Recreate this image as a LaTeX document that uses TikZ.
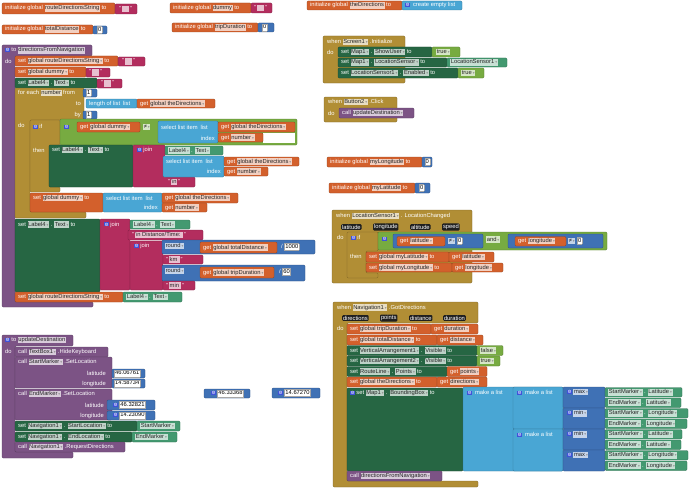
\documentclass[tikz,border=0pt]{standalone}
\usepackage{fontspec}
\setmainfont{Liberation Sans}
\newfontfamily\symf{DejaVu Sans}
\usetikzlibrary{positioning}
\definecolor{varorange}{HTML}{D3602C}
\definecolor{textmag}{HTML}{B32D5E}
\definecolor{mathblue}{HTML}{3F71B5}
\definecolor{listblue}{HTML}{49A6D4}
\definecolor{compdark}{HTML}{266643}
\definecolor{complight}{HTML}{439970}
\definecolor{ctrlgold}{HTML}{B18E35}
\definecolor{procpurple}{HTML}{7C5385}
\definecolor{logicgreen}{HTML}{77AB41}
\definecolor{gearblue}{HTML}{3F51D8}
\colorlet{fldc}{white}
\newcommand\tf{\fontsize{5.8}{7}\selectfont}
\newcommand\dd{\hspace{1pt}{\symf\fontsize{3.6}{4}\selectfont\textcolor{black!45}{▾}}}
\newcommand\fld[1]{{\setlength\fboxsep{0.6pt}\colorbox{fldc}{\textcolor{black!85}{\vphantom{Ag}#1}}}}
\newcommand\numf[1]{{\setlength\fboxsep{0.6pt}\fcolorbox{black!35}{white}{\textcolor{black}{\vphantom{Ag}#1}}}}
\newcommand\gear{{\setlength\fboxsep{0.3pt}\colorbox{gearblue}{\textcolor{white}{\symf\fontsize{4.5}{5}\selectfont ⚙}}}}
\newcommand\qt[1]{"\,\fld{#1}\,"}
\tikzset{
  blk/.style={fill=#1, draw=#1!72!black, line width=0.35pt, rounded corners=1.2pt},
  txt/.style={anchor=west, inner sep=0pt, text=white, font=\tf,
    execute at begin node={\colorlet{fldc}{#1!30!white}}},
  prm/.style={anchor=west, fill=black!88, text=white, font=\tf, inner sep=0.8pt, rounded corners=1pt}
}
\begin{document}
\begin{tikzpicture}[x=1pt,y=-1pt]
\useasboundingbox (0,0) rectangle (690,487);

% global variables
\fill[blk=varorange] (2,3) rectangle (115,14);
\node[txt=varorange] (initRoute) at (5,8.5) {initialize global \fld{routeDirectionsString} to};
\fill[blk=textmag] (115,4) rectangle (137,14);
\node[txt=textmag] (initRouteVal) at (119,9) {\qt{\hspace{6pt}}};
\fill[blk=varorange] (2,25) rectangle (93,34);
\node[txt=varorange] (initDist) at (5,29.5) {initialize global \fld{totalDistance} to};
\fill[blk=mathblue] (93,26) rectangle (107,34);
\node[txt=mathblue] (initDistVal) at (97,30) {\numf{0}};
\fill[blk=varorange] (170,3) rectangle (251,13);
\node[txt=varorange] (initDummy) at (173,8) {initialize global \fld{dummy} to};
\fill[blk=textmag] (251,3) rectangle (272,13);
\node[txt=textmag] (initDummyVal) at (254,8) {\qt{\hspace{6pt}}};
\fill[blk=varorange] (172,23) rectangle (258,32);
\node[txt=varorange] (initTrip) at (175,27.5) {initialize global \fld{tripDuration} to};
\fill[blk=mathblue] (258,23) rectangle (274,32);
\node[txt=mathblue] (initTripVal) at (262,27.5) {\numf{0}};

% procedure directionsFromNavigation
\fill[blk=procpurple] (2,45) -- (92,45) -- (92,56) -- (15,56) -- (15,302) -- (93,302) -- (93,307) -- (2,307) -- cycle;
\node[txt=procpurple] (dirProc) at (5,50.5) {\gear\ to \fld{directionsFromNavigation}};
\node[txt=procpurple] (dirDo) at (5,61) {do};
\fill[blk=varorange] (15,56) rectangle (118,66);
\node[txt=varorange] (setRoute) at (18,61) {set \fld{global routeDirectionsString\dd} to};
\fill[blk=textmag] (118,57) rectangle (145,66);
\node[txt=textmag] (setRouteVal) at (122,61.5) {\qt{\hspace{6pt}}};
\fill[blk=varorange] (15,67) rectangle (86,77);
\node[txt=varorange] (setDummy) at (18,72) {set \fld{global dummy\dd} to};
\fill[blk=textmag] (86,68) rectangle (110,77);
\node[txt=textmag] (setDummyVal) at (89,72.5) {\qt{\hspace{6pt}}};
\fill[blk=compdark] (15,78) rectangle (97,88);
\node[txt=compdark] (setLabel) at (18,83) {set \fld{Label4\dd} . \fld{Text\dd} to};
\fill[blk=textmag] (97,79) rectangle (122,88);
\node[txt=textmag] (setLabelVal) at (101,83.5) {\qt{\hspace{6pt}}};

% for each number
\fill[blk=ctrlgold] (15,88) -- (84,88) -- (84,120) -- (30,120) -- (30,212) -- (86,212) -- (86,218) -- (15,218) -- cycle;
\node[txt=ctrlgold] (forEach) at (18,93) {for each \fld{number} from};
\fill[blk=mathblue] (83,89) rectangle (97,97);
\node[txt=mathblue] (forFrom) at (86,93) {\numf{1}};
\node[txt=ctrlgold, anchor=east] (forTo) at (81,104) {to};
\fill[blk=listblue] (86,99) rectangle (137,108);
\node[txt=listblue] (lenList) at (89,103.5) {length of list\hspace{3pt}list};
\fill[blk=varorange] (137,99) rectangle (215,108);
\node[txt=varorange] (getDirA) at (140,103.5) {get \fld{global theDirections\dd}};
\node[txt=ctrlgold, anchor=east] (forBy) at (81,115) {by};
\fill[blk=mathblue] (83,111) rectangle (97,119);
\node[txt=mathblue] (forStep) at (86,115) {\numf{1}};
\node[txt=ctrlgold] (forDo) at (18,125) {do};

% if dummy differs
\fill[blk=ctrlgold] (30,120) -- (60,120) -- (60,145) -- (49,145) -- (49,187) -- (60,187) -- (60,192) -- (30,192) -- cycle;
\node[txt=ctrlgold] (ifHead) at (33,126.5) {\gear\ if};
\node[txt=ctrlgold] (ifThen) at (33,150) {then};
\fill[blk=logicgreen] (60,119) rectangle (297,145);
\fill[white] (263,133) rectangle (295,143);
\node[txt=logicgreen] (cmpGear) at (64,127) {\gear};
\fill[blk=varorange] (77,122) rectangle (140,132);
\node[txt=varorange] (getDummy) at (80,127) {get \fld{global dummy\dd}};
\node[txt=logicgreen] (cmpOp) at (143,127) {\fld{≠\dd}};
\fill[blk=listblue] (158,121) rectangle (218,143);
\node[txt=listblue] (selA) at (161,127) {select list item\hspace{3pt}list};
\node[txt=listblue, anchor=east] (selAIdx) at (215,138) {index};
\fill[blk=varorange] (218,122) rectangle (295,132);
\node[txt=varorange] (getDirB) at (221,127) {get \fld{global theDirections\dd}};
\fill[blk=varorange] (218,133) rectangle (263,142);
\node[txt=varorange] (getNumA) at (221,137.5) {get \fld{number\dd}};
\fill[blk=compdark] (49,145) rectangle (133,187);
\node[txt=compdark] (setLabelB) at (52,150) {set \fld{Label4\dd} . \fld{Text\dd} to};
\fill[blk=textmag] (133,145) -- (165,145) -- (165,177) -- (195,177) -- (195,187) -- (133,187) -- cycle;
\node[txt=textmag] (joinA) at (137,150) {\gear\ join};
\fill[blk=complight] (165,146) rectangle (223,155);
\node[txt=complight] (labelTextA) at (168,150.5) {\fld{Label4\dd} . \fld{Text\dd}};
\fill[blk=listblue] (163,156) rectangle (224,177);
\node[txt=listblue] (selB) at (166,161.5) {select list item\hspace{3pt}list};
\node[txt=listblue, anchor=east] (selBIdx) at (221,171.5) {index};
\fill[blk=varorange] (224,157) rectangle (299,166);
\node[txt=varorange] (getDirC) at (227,161.5) {get \fld{global theDirections\dd}};
\fill[blk=varorange] (224,167) rectangle (268,176);
\node[txt=varorange] (getNumB) at (227,171.5) {get \fld{number\dd}};
\node[txt=textmag] (newlineA) at (168,182) {\qt{\textbackslash n}};
\fill[blk=varorange] (30,193) rectangle (103,212);
\node[txt=varorange] (setDummyB) at (33,198) {set \fld{global dummy\dd} to};
\fill[blk=listblue] (103,193) rectangle (162,212);
\node[txt=listblue] (selC) at (106,198) {select list item\hspace{3pt}list};
\node[txt=listblue, anchor=east] (selCIdx) at (158,207.5) {index};
\fill[blk=varorange] (162,193) rectangle (238,203);
\node[txt=varorange] (getDirD) at (165,198) {get \fld{global theDirections\dd}};
\fill[blk=varorange] (162,203) rectangle (207,212);
\node[txt=varorange] (getNumC) at (165,207.5) {get \fld{number\dd}};

% distance and time
\fill[blk=compdark] (15,219) rectangle (100,292);
\node[txt=compdark] (setLabelC) at (18,224.5) {set \fld{Label4\dd} . \fld{Text\dd} to};
\fill[blk=textmag] (100,219) rectangle (130,290);
\node[txt=textmag] (joinB) at (104,224.5) {\gear\ join};
\fill[blk=complight] (130,220) rectangle (190,229);
\node[txt=complight] (labelTextB) at (133,224.5) {\fld{Label4\dd} . \fld{Text\dd}};
\fill[blk=textmag] (128,230) rectangle (203,240);
\node[txt=textmag] (distTime) at (132,235) {\qt{\textbackslash n Distance/Time:\ }};
\fill[blk=textmag] (130,241) rectangle (163,290);
\node[txt=textmag] (joinC) at (134,246) {\gear\ join};
\fill[blk=mathblue] (162,240) rectangle (315,254);
\node[txt=mathblue] (roundA) at (165,246) {\fld{round\dd}};
\fill[blk=varorange] (200,242) rectangle (277,253);
\node[txt=varorange] (getDist) at (203,247.5) {get \fld{global totalDistance\dd}};
\node[txt=mathblue] (divA) at (281,247) {/\ \numf{1000}};
\fill[blk=textmag] (163,255) rectangle (203,264);
\node[txt=textmag] (kmText) at (166,259.5) {\qt{km\ }};
\fill[blk=mathblue] (162,265) rectangle (305,281);
\node[txt=mathblue] (roundB) at (165,271) {\fld{round\dd}};
\fill[blk=varorange] (200,267) rectangle (274,278);
\node[txt=varorange] (getTrip) at (203,272.5) {get \fld{global tripDuration\dd}};
\node[txt=mathblue] (divB) at (279,272) {/\ \numf{60}};
\fill[blk=textmag] (163,281) rectangle (195,290);
\node[txt=textmag] (minText) at (166,285.5) {\qt{min\ }};
\fill[blk=varorange] (15,292) rectangle (123,302);
\node[txt=varorange] (setRouteB) at (18,297) {set \fld{global routeDirectionsString\dd} to};
\fill[blk=complight] (123,292) rectangle (182,302);
\node[txt=complight] (labelTextC) at (126,297) {\fld{Label4\dd} . \fld{Text\dd}};

% theDirections and Screen1
\fill[blk=varorange] (307,1) rectangle (402,10);
\node[txt=varorange] (initDirs) at (310,5.5) {initialize global \fld{theDirections} to};
\fill[blk=listblue] (402,1) rectangle (462,10);
\node[txt=listblue] (emptyList) at (405,5.5) {\gear\ \ create empty list};
\fill[blk=ctrlgold] (323,36) rectangle (405,83);
\node[txt=ctrlgold] (scrInit) at (327,42) {when \fld{Screen1\dd} .Initialize};
\node[txt=ctrlgold] (scrDo) at (327,52) {do};
\fill[blk=compdark] (338,47) rectangle (432,57);
\node[txt=compdark] (setShowUser) at (341,52) {set \fld{Map1\dd} . \fld{ShowUser\dd} to};
\fill[blk=logicgreen] (432,47) rectangle (460,57);
\node[txt=logicgreen] (trueA) at (436,52) {\fld{true\dd}};
\fill[blk=compdark] (338,58) rectangle (447,67);
\node[txt=compdark] (setLocSensor) at (341,62.5) {set \fld{Map1\dd} . \fld{LocationSensor\dd} to};
\fill[blk=complight] (447,58) rectangle (507,67);
\node[txt=complight] (locSensor) at (450,62.5) {\fld{LocationSensor1\dd}};
\fill[blk=compdark] (338,68) rectangle (458,78);
\node[txt=compdark] (setEnabled) at (341,73) {set \fld{LocationSensor1\dd} . \fld{Enabled\dd} to};
\fill[blk=logicgreen] (458,68) rectangle (484,78);
\node[txt=logicgreen] (trueB) at (461,73) {\fld{true\dd}};

% Button2.Click
\fill[blk=ctrlgold] (324,97) rectangle (397,122);
\node[txt=ctrlgold] (btnClick) at (328,102) {when \fld{Button2\dd} .Click};
\node[txt=ctrlgold] (btnDo) at (328,113) {do};
\fill[blk=procpurple] (339,108) rectangle (414,118);
\node[txt=procpurple] (callUpdate) at (342,113) {call \fld{updateDestination\dd}};

% my position
\fill[blk=varorange] (327,157) rectangle (422,167);
\node[txt=varorange] (initLon) at (330,162) {initialize global \fld{myLongitude} to};
\fill[blk=mathblue] (422,157) rectangle (432,167);
\node[txt=mathblue] (initLonVal) at (424.5,162) {\numf{0}};
\fill[blk=varorange] (329,183) rectangle (415,193);
\node[txt=varorange] (initLat) at (332,188) {initialize global \fld{myLatitude} to};
\fill[blk=mathblue] (415,183) rectangle (430,193);
\node[txt=mathblue] (initLatVal) at (419,188) {\numf{0}};

% LocationSensor1.LocationChanged
\fill[blk=ctrlgold] (332,210) rectangle (472,283);
\node[txt=ctrlgold] (locChanged) at (336,216) {when \fld{LocationSensor1\dd} . LocationChanged};
\node[prm] (prmLat) at (341,227) {latitude};
\node[prm] (prmLon) at (373,227) {longitude};
\node[prm] (prmAlt) at (410,227) {altitude};
\node[prm] (prmSpeed) at (442,227) {speed};
\node[txt=ctrlgold] (locDo) at (337,237.5) {do};
\fill[blk=ctrlgold] (347,232) -- (378,232) -- (378,251) -- (366,251) -- (366,273) -- (378,273) -- (378,278) -- (347,278) -- cycle;
\node[txt=ctrlgold] (ifB) at (351,238) {\gear\ if};
\node[txt=ctrlgold] (thenB) at (350,256.5) {then};
\fill[blk=logicgreen] (378,232) rectangle (607,250);
\node[txt=logicgreen] (andGear) at (382,239) {\gear};
\fill[blk=mathblue] (393,234) rectangle (483,248);
\fill[blk=varorange] (397,236.5) rectangle (445,246);
\node[txt=varorange] (getLat) at (400,241) {get \fld{latitude\dd}};
\node[txt=mathblue] (cmpLat) at (448,241) {\fld{≠\dd}\ \numf{0}};
\node[txt=logicgreen] (andOp) at (486,239.5) {\fld{and\dd}};
\fill[blk=mathblue] (508,234) rectangle (603,248);
\fill[blk=varorange] (515,236.5) rectangle (566,246);
\node[txt=varorange] (getLon) at (518,241) {get \fld{longitude\dd}};
\node[txt=mathblue] (cmpLon) at (568,241) {\fld{≠\dd}\ \numf{0}};
\fill[blk=varorange] (366,252) rectangle (449,262);
\node[txt=varorange] (setMyLat) at (369,257) {set \fld{global myLatitude\dd} to};
\fill[blk=varorange] (449,252) rectangle (494,262);
\node[txt=varorange] (getLatB) at (452,257) {get \fld{latitude\dd}};
\fill[blk=varorange] (366,263) rectangle (452,272);
\node[txt=varorange] (setMyLon) at (369,267.5) {set \fld{global myLongitude\dd} to};
\fill[blk=varorange] (452,263) rectangle (503,272);
\node[txt=varorange] (getLonB) at (455,267.5) {get \fld{longitude\dd}};

% procedure updateDestination
\fill[blk=procpurple] (2,335) -- (73,335) -- (73,346) -- (15,346) -- (15,452) -- (73,452) -- (73,458) -- (2,458) -- cycle;
\node[txt=procpurple] (updProc) at (5,340) {\gear\ to \fld{updateDestination}};
\node[txt=procpurple] (updDo) at (5,351) {do};
\fill[blk=procpurple] (15,347) rectangle (108,357);
\node[txt=procpurple] (hideKb) at (18,352) {call \fld{TextBox1\dd} .HideKeyboard};
\fill[blk=procpurple] (15,357) rectangle (112,388);
\node[txt=procpurple] (startSet) at (18,362) {call \fld{StartMarker\dd} .SetLocation};
\node[txt=procpurple, anchor=east] (startLatLbl) at (106,373.5) {latitude};
\node[txt=procpurple, anchor=east] (startLonLbl) at (106,383.5) {longitude};
\fill[blk=mathblue] (112,369) rectangle (145,378);
\node[txt=mathblue] (startLat) at (114,373.5) {\numf{46.06761}};
\fill[blk=mathblue] (112,379) rectangle (145,388);
\node[txt=mathblue] (startLon) at (114,383.5) {\numf{14.58734}};
\fill[blk=procpurple] (15,389) rectangle (112,420);
\node[txt=procpurple] (endSet) at (18,394) {call \fld{EndMarker\dd} .SetLocation};
\node[txt=procpurple, anchor=east] (endLatLbl) at (104,405) {latitude};
\node[txt=procpurple, anchor=east] (endLonLbl) at (104,415.5) {longitude};
\fill[blk=mathblue] (107,400) rectangle (155,410);
\node[txt=mathblue] (endLat) at (113,405) {\gear\ \numf{46.32821}};
\fill[blk=mathblue] (107,411) rectangle (155,420);
\node[txt=mathblue] (endLon) at (113,415.5) {\gear\ \numf{14.23090}};
\fill[blk=compdark] (15,421) rectangle (137,431);
\node[txt=compdark] (setStartLoc) at (18,426) {set \fld{Navigation1\dd} . \fld{StartLocation\dd} to};
\fill[blk=complight] (137,421) rectangle (180,431);
\node[txt=complight] (startMk) at (140,426) {\fld{StartMarker\dd}};
\fill[blk=compdark] (15,432) rectangle (132,442);
\node[txt=compdark] (setEndLoc) at (18,437) {set \fld{Navigation1\dd} . \fld{EndLocation\dd} to};
\fill[blk=complight] (132,432) rectangle (177,442);
\node[txt=complight] (endMk) at (135,437) {\fld{EndMarker\dd}};
\fill[blk=procpurple] (15,442) rectangle (125,452);
\node[txt=procpurple] (reqDir) at (18,447) {call \fld{Navigation1\dd} .RequestDirections};

% loose numbers
\fill[blk=mathblue] (204,389) rectangle (250,398);
\node[txt=mathblue] (looseLat) at (211,393.5) {\gear\ \numf{46.33368}};
\fill[blk=mathblue] (272,388) rectangle (320,398);
\node[txt=mathblue] (looseLon) at (278,393) {\gear\ \numf{14.67270}};

% Navigation1.GotDirections
\fill[blk=ctrlgold] (333,302) -- (478,302) -- (478,323) -- (347,323) -- (347,481) -- (478,481) -- (478,487) -- (333,487) -- cycle;
\node[txt=ctrlgold] (gotDir) at (337,307.5) {when \fld{Navigation1\dd} .GotDirections};
\node[prm] (prmDirs) at (342,318) {directions};
\node[prm] (prmPts) at (380,318) {points};
\node[prm] (prmDist) at (409,318) {distance};
\node[prm] (prmDur) at (443,318) {duration};
\node[txt=ctrlgold] (gotDo) at (337,328.5) {do};
\fill[blk=varorange] (347,324) rectangle (431,334);
\node[txt=varorange] (setTrip) at (350,329) {set \fld{global tripDuration\dd} to};
\fill[blk=varorange] (431,324) rectangle (478,334);
\node[txt=varorange] (getDur) at (434,329) {get \fld{duration\dd}};
\fill[blk=varorange] (347,335) rectangle (437,345);
\node[txt=varorange] (setTotal) at (350,340) {set \fld{global totalDistance\dd} to};
\fill[blk=varorange] (437,335) rectangle (483,345);
\node[txt=varorange] (getDistB) at (440,340) {get \fld{distance\dd}};
\fill[blk=compdark] (347,345.5) rectangle (477,355.5);
\node[txt=compdark] (setVAone) at (350,350.5) {set \fld{VerticalArrangement1\dd} . \fld{Visible\dd} to};
\fill[blk=logicgreen] (477,345.5) rectangle (503,355.5);
\node[txt=logicgreen] (falseA) at (480,350.5) {\fld{false\dd}};
\fill[blk=compdark] (347,356) rectangle (477,366);
\node[txt=compdark] (setVAtwo) at (350,361) {set \fld{VerticalArrangement2\dd} . \fld{Visible\dd} to};
\fill[blk=logicgreen] (477,356) rectangle (500,366);
\node[txt=logicgreen] (trueC) at (480,361) {\fld{true\dd}};
\fill[blk=compdark] (347,366.5) rectangle (447,376.5);
\node[txt=compdark] (setPoints) at (350,371.5) {set \fld{RouteLine\dd} . \fld{Points\dd} to};
\fill[blk=varorange] (447,366.5) rectangle (487,376.5);
\node[txt=varorange] (getPts) at (450,371.5) {get \fld{points\dd}};
\fill[blk=varorange] (347,377) rectangle (437,387);
\node[txt=varorange] (setDirs) at (350,382) {set \fld{global theDirections\dd} to};
\fill[blk=varorange] (437,377) rectangle (487,387);
\node[txt=varorange] (getDirs) at (440,382) {get \fld{directions\dd}};

% bounding box of the route
\fill[blk=compdark] (347,388) rectangle (463,471);
\node[txt=compdark] (setBBox) at (350,393) {\gear\ set \fld{Map1\dd} . \fld{BoundingBox\dd} to};
\fill[blk=listblue] (463,387) rectangle (563,471);
\node[txt=listblue] (mkListA) at (467,392.25) {\gear\ \ make a list};
\fill[blk=listblue] (513,387) rectangle (563,429);
\node[txt=listblue] (mkListB) at (517,392.25) {\gear\ \ make a list};
\fill[blk=listblue] (513,429) rectangle (563,471);
\node[txt=listblue] (mkListC) at (517,434.25) {\gear\ \ make a list};
\foreach \i/\op in {0/max,1/min,2/min,3/max} {
  \fill[blk=mathblue] (563,387+21*\i) rectangle (605,408+21*\i);
  \node[txt=mathblue] (agg\i) at (567,392.25+21*\i) {\gear\ \fld{\op\dd}};
}
\foreach \i/\mk/\ax/\w in {0/Start/Latitude/682,1/End/Latitude/681,2/Start/Longitude/688,3/End/Longitude/687,
    4/Start/Latitude/682,5/End/Latitude/681,6/Start/Longitude/688,7/End/Longitude/687} {
  \fill[blk=complight] (605,387.5+10.5*\i) rectangle (\w,397+10.5*\i);
  \node[txt=complight] (coord\i) at (608,392.25+10.5*\i) {\fld{\mk Marker\dd} . \fld{\ax\dd}};
}
\fill[blk=procpurple] (347,471) rectangle (442,481);
\node[txt=procpurple] (callDirs) at (350,476) {call \fld{directionsFromNavigation\dd}};
\end{tikzpicture}
\end{document}
